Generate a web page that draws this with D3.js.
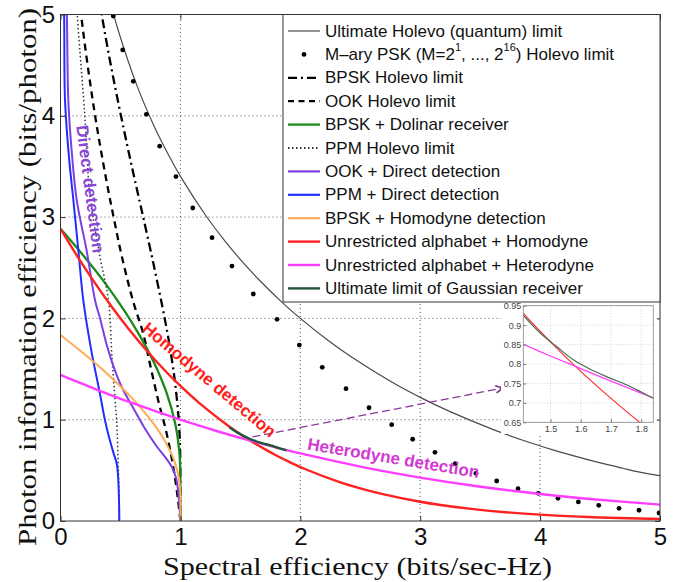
<!DOCTYPE html>
<html><head><meta charset="utf-8">
<script src="https://cdn.jsdelivr.net/npm/d3@7"></script>
<style>body{margin:0;background:#fff}svg{display:block}</style>
</head><body>
<svg id="c" width="685" height="582"></svg>
<script>
// ---------- data ----------
const xTicks = [0, 1, 2, 3, 4, 5];
const yTicks = [0, 1, 2, 3, 4, 5];
const insetXTicks = [1.5, 1.6, 1.7, 1.8];
const insetYTicks = [0.65, 0.7, 0.75, 0.8, 0.85, 0.9, 0.95];

const holevoLimit = [[0.373,5.33],[0.430,5.06],[0.4835,4.835],[0.6424,4.283],[0.780,3.90],[0.9024,3.61],[1.0132,3.377],[1.2084,3.021],[1.377,2.755],[1.527,2.545],[1.6616,2.374],[1.8412,2.166],[2.0,2.0],[2.2299,1.784],[2.4274,1.618],[2.755,1.377],[3.021,1.208],[3.245,1.082],[3.61,0.9024],[3.90,0.78],[4.14,0.69],[4.35,0.621],[4.529,0.566],[4.69,0.521],[4.83,0.483],[4.97,0.452],[5.05,0.44]];
const pskDots = [[0.440,4.985],[0.519,4.65],[0.607,4.34],[0.716,4.015],[0.827,3.70],[0.963,3.40],[1.103,3.09],[1.264,2.797],[1.43,2.517],[1.608,2.241],[1.806,1.991],[1.992,1.737],[2.183,1.517],[2.381,1.306],[2.573,1.118],[2.762,0.951],[2.937,0.807],[3.123,0.678],[3.293,0.566],[3.465,0.471],[3.638,0.395],[3.816,0.319],[3.985,0.273],[4.149,0.224],[4.319,0.188],[4.489,0.155],[4.658,0.125],[4.825,0.106],[4.992,0.079]];
const bpskHolevo = [[0.2351,5.88],[0.2761,5.52],[0.348,4.97],[0.4385,4.385],[0.5564,3.709],[0.6457,3.23],[0.6896,3.0],[0.7702,2.567],[0.849,2.12],[0.9002,1.80],[0.9335,1.556],[0.9557,1.365],[0.9868,0.987],[0.9982,0.665],[0.9998,0.5],[1.0,0.333],[1.0,0.15],[1.0,0.0]];
const ookHolevo = [[0.15,5.3],[0.172,5.0],[0.278,4.08],[0.38,3.38],[0.46,2.9],[0.51,2.62],[0.603,2.18],[0.69,1.85],[0.746,1.55],[0.815,1.19],[0.885,0.866],[0.94,0.536],[0.98,0.21],[1.0,0.0]];
const bpskDolinar = [[0.0,2.885],[0.1351,2.70],[0.2529,2.529],[0.356,2.373],[0.4453,2.227],[0.5906,1.969],[0.6997,1.749],[0.7809,1.562],[0.885,1.264],[0.9577,0.958],[0.9925,0.662],[0.9987,0.4994],[1.0,0.333],[1.0,0.0]];
const ppmHolevo = [[0.13,5.3],[0.14,5.0],[0.2,4.05],[0.246,3.2],[0.3,2.8],[0.33,2.6],[0.40,2.18],[0.43,1.6],[0.455,1.2],[0.468,1.0],[0.482,0.54],[0.49,0.2],[0.492,0.0]];
const ookDirect = [[0.045,5.3],[0.053,5.0],[0.065,4.16],[0.09,3.7],[0.135,3.17],[0.218,2.67],[0.288,2.18],[0.33,2.0],[0.39,1.72],[0.45,1.5],[0.52,1.3],[0.6,1.13],[0.7,0.92],[0.8,0.74],[0.88,0.62],[0.93,0.53],[0.965,0.42],[0.985,0.25],[0.995,0.1],[1.0,0.0]];
const ppmDirect = [[0.02,5.3],[0.03,5.0],[0.0375,4.16],[0.07,3.6],[0.107,3.17],[0.149,2.67],[0.19,2.18],[0.256,1.69],[0.33,1.25],[0.37,1.0],[0.40,0.85],[0.44,0.68],[0.47,0.56],[0.482,0.4],[0.488,0.2],[0.49,0.0]];
const bpskHomodyne = [[0.0,1.837],[0.1678,1.678],[0.3078,1.539],[0.4244,1.415],[0.6028,1.206],[0.7504,1.0],[0.8434,0.843],[0.9387,0.626],[0.976,0.488],[0.9965,0.332],[1.0,0.2],[1.0,0.0]];
const unrestrictedHomodyne = [[0.0,2.885],[0.1315,2.63],[0.2427,2.427],[0.424,2.12],[0.5688,1.896],[0.7925,1.585],[1.0,1.333],[1.161,1.161],[1.4037,0.936],[1.5,0.857],[1.6,0.781],[1.7,0.7116],[1.8,0.647],[1.9,0.588],[2.0437,0.511],[2.322,0.387],[2.5,0.3226],[2.679,0.268],[3.0,0.190],[3.17,0.158],[3.5,0.110],[3.665,0.0916],[4.0,0.0627],[4.324,0.0432],[4.5,0.0352],[5.0,0.0195]];
const unrestrictedHeterodyne = [[0.0,1.4427],[0.1375,1.375],[0.3219,1.288],[0.585,1.17],[1.0,1.0],[1.3219,0.881],[1.4,0.854],[1.5,0.8205],[1.6,0.788],[1.7,0.756],[1.8,0.725],[1.9,0.695],[2.0,0.667],[2.585,0.517],[3.0,0.4286],[3.459,0.346],[4.0,0.267],[4.392,0.2196],[5.0,0.1613]];
const gaussianUltimate = [[1.41,0.925],[1.467,0.879],[1.52,0.845],[1.577,0.81],[1.63,0.787],[1.687,0.767],[1.753,0.746],[1.80,0.728],[1.84,0.712],[1.885,0.698]];

const legendLabels = ["Ultimate Holevo (quantum) limit","M\u2013ary PSK","BPSK Holevo limit","OOK Holevo limit","BPSK + Dolinar receiver","PPM Holevo limit","OOK + Direct detection","PPM + Direct detection","BPSK + Homodyne detection","Unrestricted alphabet + Homodyne","Unrestricted alphabet + Heterodyne","Ultimate limit of Gaussian receiver"];

// annotation anchors (data coordinates)
const arrowFrom = [1.6, 0.83], arrowTo = [3.69, 1.313];
const labelDirect = {text:"Direct detection", at:[0.246,3.277], rot:82.5, color:"#8a46d6"};
const labelHomodyne = {text:"Homodyne detection", at:[1.239,1.392], rot:40, color:"#ff2020"};
const labelHeterodyne = {text:"Heterodyne detection", at:[2.776,0.619], rot:9.5, color:"#d23ad2"};

// ---------- series styles ----------
const series = [
  {data:holevoLimit, stroke:"#4a4a4a", w:1.2},
  {data:pskDots, dots:true},
  {data:bpskHolevo, stroke:"#000", w:2.3, dash:"9,4,2,4"},
  {data:ookHolevo, stroke:"#000", w:2.3, dash:"7,5"},
  {data:bpskDolinar, stroke:"#1a8a1a", w:2.3},
  {data:ppmHolevo, stroke:"#333", w:1.5, dash:"1.5,2.5"},
  {data:ookDirect, stroke:"#7b3fe4", w:2},
  {data:ppmDirect, stroke:"#1f2fff", w:2},
  {data:bpskHomodyne, stroke:"#ffaa55", w:2},
  {data:unrestrictedHomodyne, stroke:"#ff2020", w:2.4},
  {data:unrestrictedHeterodyne, stroke:"#ff3cff", w:2.4},
  {data:gaussianUltimate, stroke:"#24553a", w:2.4}
];

const svg = d3.select("#c");
svg.append("rect").attr("width",685).attr("height",582).attr("fill","#fff");

const x = d3.scaleLinear().domain([0,5]).range([60.5,660]);
const y = d3.scaleLinear().domain([0,5]).range([521,14.5]);

svg.append("clipPath").attr("id","clipMain").append("rect")
  .attr("x",x(0)).attr("y",y(5)).attr("width",x(5)-x(0)).attr("height",y(0)-y(5));

// grid
const grid = svg.append("g").attr("stroke","#555").attr("stroke-width",1).attr("stroke-dasharray","1,3");
xTicks.filter(v=>v>0&&v<5).forEach(v=>grid.append("line").attr("x1",x(v)).attr("x2",x(v)).attr("y1",y(0)).attr("y2",y(5)));
yTicks.filter(v=>v>0&&v<5).forEach(v=>grid.append("line").attr("y1",y(v)).attr("y2",y(v)).attr("x1",x(0)).attr("x2",x(5)));

// curves
const lineGen = (sx,sy)=>d3.line().x(d=>sx(d[0])).y(d=>sy(d[1])).curve(d3.curveCatmullRom.alpha(0.5));
const plot = svg.append("g").attr("clip-path","url(#clipMain)");
series.forEach(s=>{
  if(s.dots){
    plot.selectAll(null).data(s.data).enter().append("circle")
      .attr("cx",d=>x(d[0])).attr("cy",d=>y(d[1])).attr("r",2.4).attr("fill","#000");
  } else {
    plot.append("path").attr("d",lineGen(x,y)(s.data)).attr("fill","none")
      .attr("stroke",s.stroke).attr("stroke-width",s.w).attr("stroke-dasharray",s.dash||null)
      .attr("stroke-linejoin","round");
  }
});

// annotation arrow
svg.append("defs").append("marker").attr("id","arr").attr("viewBox","0 0 10 10")
  .attr("refX",9).attr("refY",5).attr("markerWidth",9).attr("markerHeight",9)
  .attr("markerUnits","userSpaceOnUse").attr("orient","auto")
  .append("path").attr("d","M1,1 L9,5 L1,9").attr("fill","none").attr("stroke","#7d2f8f").attr("stroke-width",1.8);
svg.append("line").attr("x1",x(arrowFrom[0])).attr("y1",y(arrowFrom[1]))
  .attr("x2",x(arrowTo[0])).attr("y2",y(arrowTo[1]))
  .attr("stroke","#8b3a9a").attr("stroke-width",1.3).attr("stroke-dasharray","8,4")
  .attr("marker-end","url(#arr)");

// in-plot labels
[labelDirect,labelHomodyne,labelHeterodyne].forEach(l=>{
  svg.append("text").attr("transform",`translate(${x(l.at[0])},${y(l.at[1])}) rotate(${l.rot})`)
    .attr("text-anchor","middle").attr("dominant-baseline","central")
    .attr("font-family","Liberation Sans, Arial, sans-serif").attr("font-weight","bold")
    .attr("font-size",17).attr("fill",l.color).text(l.text);
});

// axes frame
svg.append("rect").attr("x",x(0)).attr("y",y(5)).attr("width",x(5)-x(0)).attr("height",y(0)-y(5))
  .attr("fill","none").attr("stroke","#333").attr("stroke-width",1);
const fontTick = "Liberation Sans, Arial, Helvetica, sans-serif";
const ax = (g)=>{g.select(".domain").remove(); g.selectAll("line").attr("stroke","#333");};
svg.append("g").attr("transform",`translate(0,${y(0)})`)
  .call(d3.axisBottom(x).tickValues(xTicks).tickSizeInner(-5).tickSizeOuter(0).tickPadding(7).tickFormat(d3.format("d")))
  .call(ax).selectAll("text").attr("font-size",24).attr("font-family",fontTick).attr("fill","#111");
svg.append("g").attr("transform",`translate(${x(0)},0)`)
  .call(d3.axisLeft(y).tickValues(yTicks).tickSizeInner(-5).tickSizeOuter(0).tickPadding(5.5).tickFormat(d3.format("d")))
  .call(ax).selectAll("text").attr("font-size",24).attr("font-family",fontTick).attr("fill","#111");
svg.append("g").attr("transform",`translate(0,${y(5)})`)
  .call(d3.axisTop(x).tickValues(xTicks).tickSizeInner(-5).tickSizeOuter(0).tickFormat(""))
  .call(ax);
svg.append("g").attr("transform",`translate(${x(5)},0)`)
  .call(d3.axisRight(y).tickValues(yTicks).tickSizeInner(-5).tickSizeOuter(0).tickFormat(""))
  .call(ax);

// axis titles (stretched to the measured lengths)
svg.append("text").attr("x",357.5).attr("y",575).attr("text-anchor","middle")
  .attr("font-family","Liberation Serif, Times New Roman, serif").attr("font-size",26).attr("fill","#111")
  .attr("textLength",389).attr("lengthAdjust","spacingAndGlyphs")
  .text("Spectral efficiency (bits/sec-Hz)");
svg.append("text").attr("transform","translate(36,277) rotate(-90)").attr("text-anchor","middle")
  .attr("font-family","Liberation Serif, Times New Roman, serif").attr("font-size",26).attr("fill","#111")
  .attr("textLength",538).attr("lengthAdjust","spacingAndGlyphs")
  .text("Photon information efficiency (bits/photon)");

// legend
const lg = svg.append("g");
lg.append("rect").attr("x",283).attr("y",y(5)).attr("width",x(5)-283).attr("height",302-y(5))
  .attr("fill","#fff").attr("stroke","#333").attr("stroke-width",1);
series.forEach((s,i)=>{
  const ry = 31 + 23.4*i;
  if(s.dots){
    lg.append("circle").attr("cx",304).attr("cy",ry).attr("r",2.4).attr("fill","#000");
  } else {
    lg.append("line").attr("x1",288).attr("x2",320).attr("y1",ry).attr("y2",ry)
      .attr("stroke",s.stroke).attr("stroke-width",s.w===1.2?1.2:Math.max(s.w,2.2))
      .attr("stroke-dasharray",s.dash===("7,5")?"6,4.5":(s.dash||null));
  }
  const t = lg.append("text").attr("x",325).attr("y",ry).attr("dominant-baseline","central")
    .attr("font-family","Liberation Sans, Arial, sans-serif").attr("font-size",17).attr("fill","#111");
  if(s.dots){
    t.append("tspan").text(legendLabels[i]+" (M=2");
    t.append("tspan").attr("font-size",11).attr("dy",-7).text("1");
    t.append("tspan").attr("dy",7).text(", ..., 2");
    t.append("tspan").attr("font-size",11).attr("dy",-7).text("16");
    t.append("tspan").attr("dy",7).text(") Holevo limit");
  } else t.text(legendLabels[i]);
});

// inset
svg.append("rect").attr("x",501).attr("y",303).attr("width",156).attr("height",131).attr("fill","#fff");
const ix = d3.scaleLinear().domain([1.41,1.84]).range([523.3,653.3]);
const iy = d3.scaleLinear().domain([0.65,0.95]).range([422.3,305.7]);
svg.append("clipPath").attr("id","clipInset").append("rect")
  .attr("x",ix.range()[0]).attr("y",iy.range()[1]).attr("width",ix.range()[1]-ix.range()[0]).attr("height",iy.range()[0]-iy.range()[1]);
const ig = svg.append("g").attr("stroke","#c8c8c8").attr("stroke-width",0.8).attr("stroke-dasharray","1,2");
insetXTicks.forEach(v=>ig.append("line").attr("x1",ix(v)).attr("x2",ix(v)).attr("y1",iy(0.65)).attr("y2",iy(0.95)));
insetYTicks.forEach(v=>ig.append("line").attr("y1",iy(v)).attr("y2",iy(v)).attr("x1",ix(1.41)).attr("x2",ix(1.84)));
const ip = svg.append("g").attr("clip-path","url(#clipInset)");
[[unrestrictedHomodyne,"#ff3030"],[unrestrictedHeterodyne,"#ff3cff"],[gaussianUltimate,"#4a6a52"]].forEach(([d,c])=>{
  ip.append("path").attr("d",lineGen(ix,iy)(d)).attr("fill","none").attr("stroke",c).attr("stroke-width",1.2);
});
svg.append("rect").attr("x",ix.range()[0]).attr("y",iy.range()[1]).attr("width",ix.range()[1]-ix.range()[0]).attr("height",iy.range()[0]-iy.range()[1])
  .attr("fill","none").attr("stroke","#888").attr("stroke-width",0.8);
const iax = (g)=>{g.select(".domain").remove(); g.selectAll("line").attr("stroke","#777");
  g.selectAll("text").attr("font-size",9).attr("font-family",fontTick).attr("fill","#444");};
svg.append("g").attr("transform",`translate(0,${iy(0.65)})`)
  .call(d3.axisBottom(ix).tickValues(insetXTicks).tickSizeInner(-3).tickSizeOuter(0).tickPadding(3).tickFormat(d3.format(".1f"))).call(iax);
svg.append("g").attr("transform",`translate(${ix(1.41)},0)`)
  .call(d3.axisLeft(iy).tickValues(insetYTicks).tickSizeInner(-3).tickSizeOuter(0).tickPadding(2).tickFormat(d3.format(".2~f"))).call(iax);
</script>
</body></html>
